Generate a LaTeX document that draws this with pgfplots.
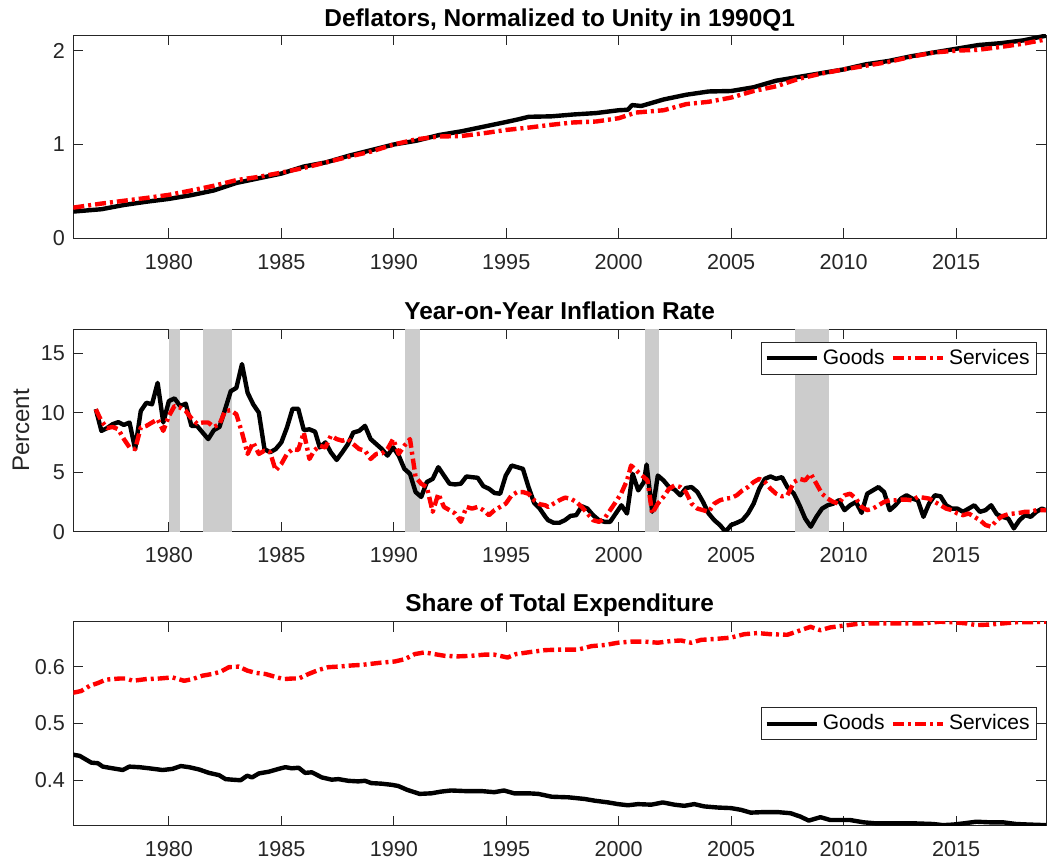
\documentclass[border=0pt]{standalone}
\usepackage{pgfplots}
\pgfplotsset{compat=1.18}
\usepackage{fontspec}
\setmainfont{Liberation Sans}
\definecolor{axgray}{RGB}{38,38,38}
\definecolor{recess}{RGB}{204,204,204}
\pgfplotsset{
  every axis title/.style={at={(0.5,1)}, anchor=base, yshift=5pt,
    font=\bfseries\fontsize{12.2}{14}\selectfont},
  myaxis/.style={
    scale only axis, width=486.35pt,
    xmin=1975.75, xmax=2019,
    xtick={1980,1985,...,2015},
    tick align=inside, tick pos=both,
    major tick length=5pt,
    axis line style={axgray, line width=0.4pt},
    every tick/.style={axgray, line width=0.4pt},
    tick label style={font=\fontsize{10.8}{12}\selectfont, text=axgray},
    /pgf/number format/assume math mode=true,
    xticklabel style={/pgf/number format/1000 sep=, anchor=base, yshift=-15.5pt},
    yticklabel style={xshift=-0.7pt},
    legend style={draw=axgray, line width=0.4pt, fill=white,
      font=\fontsize{10.5}{12}\selectfont, legend columns=2,
      inner xsep=1.5pt, inner ysep=1.5pt,
      /tikz/every even column/.append style={column sep=1pt}},
    legend image code/.code={\draw[##1] (0pt,0pt) -- (25pt,0pt);},
  },
  goods/.style={black, line width=2.2pt, line join=round},
  serv/.style={red, line width=2.2pt, line join=round, dash pattern=on 5.5pt off 2pt on 1.5pt off 2pt},
}
\begin{document}
\begin{tikzpicture}
\useasboundingbox (0,0) rectangle (523.5pt,432pt);
% ---------------- Top panel
\begin{axis}[myaxis, at={(36.65pt,312.85pt)}, anchor=south west, height=101.65pt,
  ymin=0, ymax=2.167, ytick={0,1,2},
  title={Deflators, Normalized to Unity in 1990Q1},
  title style={yshift=-0.8pt}]
\addplot[goods] table {
1975.75 0.285
1977 0.31
1978 0.355
1979 0.39
1980 0.42
1981 0.46
1982 0.51
1983 0.59
1984 0.64
1985 0.69
1986 0.765
1987 0.81
1988 0.88
1989 0.94
1990 1.0
1991 1.04
1992 1.10
1993 1.14
1994 1.19
1995 1.24
1995.5 1.266
1996 1.295
1997 1.30
1998 1.32
1999 1.335
2000 1.365
2000.4 1.37
2000.6 1.42
2001 1.41
2002 1.48
2003 1.53
2004 1.565
2005 1.57
2006 1.61
2007 1.68
2008 1.72
2009 1.76
2010 1.80
2011 1.855
2012 1.89
2013 1.94
2014 1.98
2015 2.02
2016 2.06
2017 2.08
2018 2.11
2019 2.16
};
\addplot[serv] table {
1975.75 0.327
1977 0.37
1978 0.40
1979 0.43
1980 0.463
1981 0.51
1982 0.56
1983 0.62
1984 0.655
1985 0.70
1986 0.75
1987 0.81
1988 0.87
1989 0.925
1990 1.0
1991 1.055
1992 1.085
1993 1.09
1994 1.12
1995 1.155
1996 1.18
1997 1.21
1998 1.235
1999 1.245
2000 1.28
2000.75 1.34
2002 1.365
2003 1.43
2004 1.455
2005 1.50
2006 1.57
2007 1.62
2008 1.70
2009 1.755
2010 1.80
2011 1.84
2012 1.88
2013 1.935
2014 1.98
2015 2.00
2016 2.01
2017 2.04
2018 2.075
2019 2.12
};
\end{axis}
% ---------------- Middle panel
\begin{axis}[myaxis, at={(36.65pt,166.15pt)}, anchor=south west, height=101.2pt,
  ymin=0, ymax=17, ytick={0,5,10,15},
  title={Year-on-Year Inflation Rate},
  ylabel={Percent},
  ylabel style={at={(axis description cs:-0.0538,0.5)}, anchor=center, font=\fontsize{12}{14}\selectfont, text=axgray},
  legend style={at={(axis description cs:0.9907,0.939)}, anchor=north east}]
\addplot[fill=recess, draw=none, forget plot] coordinates {(1980,0) (1980,17) (1980.5,17) (1980.5,0)} -- cycle;
\addplot[fill=recess, draw=none, forget plot] coordinates {(1981.5,0) (1981.5,17) (1982.8,17) (1982.8,0)} -- cycle;
\addplot[fill=recess, draw=none, forget plot] coordinates {(1990.5,0) (1990.5,17) (1991.15,17) (1991.15,0)} -- cycle;
\addplot[fill=recess, draw=none, forget plot] coordinates {(2001.15,0) (2001.15,17) (2001.8,17) (2001.8,0)} -- cycle;
\addplot[fill=recess, draw=none, forget plot] coordinates {(2007.85,0) (2007.85,17) (2009.35,17) (2009.35,0)} -- cycle;
\addplot[goods] table {
1976.75 10.3
1977.0 8.47
1977.25 8.7
1977.5 9.03
1977.75 9.2
1978.0 8.97
1978.25 9.17
1978.5 6.94
1978.75 10.14
1979.0 10.83
1979.25 10.7
1979.5 12.5
1979.75 9.17
1980.0 10.97
1980.25 11.2
1980.5 10.56
1980.75 10.75
1981.0 8.89
1981.25 8.89
1981.5 8.33
1981.75 7.78
1982.0 8.53
1982.25 8.8
1982.5 10.28
1982.75 11.8
1983.0 12.08
1983.25 14.08
1983.5 11.67
1983.75 10.7
1984.0 10.0
1984.25 6.94
1984.5 6.67
1984.75 6.94
1985.0 7.5
1985.25 8.75
1985.5 10.33
1985.75 10.33
1986.0 8.53
1986.25 8.6
1986.5 8.4
1986.71 7.08
1986.96 7.5
1987.2 6.67
1987.46 6.03
1987.71 6.67
1987.96 7.36
1988.2 8.33
1988.46 8.47
1988.72 8.89
1988.97 7.78
1989.22 7.36
1989.47 6.94
1989.72 6.39
1989.97 7.08
1990.22 6.39
1990.47 5.28
1990.72 4.86
1990.97 3.33
1991.22 2.92
1991.47 4.17
1991.73 4.44
1991.98 5.42
1992.23 4.72
1992.48 4.03
1992.73 3.97
1992.98 4.03
1993.23 4.64
1993.48 4.58
1993.73 4.53
1993.98 3.83
1994.23 3.61
1994.48 3.25
1994.73 3.19
1994.98 4.72
1995.24 5.56
1995.49 5.42
1995.74 5.28
1995.99 3.75
1996.24 2.42
1996.49 1.94
1996.74 1.25
1996.86 0.97
1997.11 0.75
1997.36 0.75
1997.61 0.97
1997.86 1.33
1998.11 1.39
1998.36 2.14
1998.61 1.94
1998.86 1.39
1999.12 0.97
1999.37 0.83
1999.62 0.83
1999.87 1.53
2000.12 2.22
2000.37 1.53
2000.62 4.86
2000.87 3.47
2001.12 4.17
2001.24 5.64
2001.49 1.67
2001.74 4.72
2001.99 4.31
2002.24 3.75
2002.49 3.53
2002.74 3.06
2002.99 3.67
2003.24 3.75
2003.5 3.33
2003.75 2.5
2004.0 1.53
2004.25 0.97
2004.5 0.56
2004.75 0.0
2005.0 0.56
2005.25 0.75
2005.5 0.97
2005.75 1.53
2006.0 2.36
2006.25 3.61
2006.5 4.44
2006.75 4.64
2007.0 4.44
2007.26 4.58
2007.5 3.75
2007.79 3.19
2008.04 2.22
2008.29 1.11
2008.54 0.42
2008.79 1.25
2009.04 1.94
2009.29 2.22
2009.54 2.36
2009.79 2.64
2010.04 1.81
2010.29 2.22
2010.55 2.5
2010.8 1.58
2011.05 3.19
2011.3 3.47
2011.55 3.75
2011.8 3.33
2012.05 1.81
2012.3 2.22
2012.55 2.78
2012.8 3.06
2013.05 2.78
2013.3 2.64
2013.55 1.25
2013.8 2.36
2014.06 3.06
2014.31 2.97
2014.56 2.22
2014.81 1.94
2015.06 1.94
2015.31 1.67
2015.56 1.94
2015.81 2.22
2016.06 1.67
2016.31 1.81
2016.56 2.22
2016.81 1.47
2017.06 1.25
2017.32 1.11
2017.57 0.28
2017.82 0.97
2018.07 1.39
2018.32 1.25
2018.57 1.67
2018.82 1.94
2019.0 1.8
};
\addlegendentry{Goods}
\addplot[serv] table {
1976.75 10.28
1977.0 9.3
1977.25 8.7
1977.5 8.8
1977.75 8.6
1978.0 7.78
1978.25 7.08
1978.5 6.94
1978.75 8.75
1979.0 8.89
1979.25 9.17
1979.5 9.44
1979.75 8.47
1980.0 9.72
1980.25 10.56
1980.5 10.42
1980.75 10.14
1981.0 9.53
1981.25 9.08
1981.5 9.17
1981.75 9.17
1982.0 8.8
1982.25 9.03
1982.5 10.14
1982.75 10.2
1983.0 9.86
1983.25 8.33
1983.5 6.53
1983.75 7.5
1984.0 6.53
1984.25 6.81
1984.5 6.67
1984.75 5.14
1985.0 5.69
1985.25 6.53
1985.5 6.94
1985.75 6.86
1986.0 8.33
1986.25 6.11
1986.46 6.81
1986.71 7.22
1986.96 7.08
1987.2 8.06
1987.46 7.78
1987.71 7.64
1987.96 7.78
1988.2 7.36
1988.46 6.94
1988.72 6.81
1988.97 6.11
1989.22 6.53
1989.47 6.58
1989.72 6.94
1989.97 7.78
1990.22 6.53
1990.47 7.22
1990.72 7.78
1990.97 4.58
1991.22 4.03
1991.47 3.75
1991.73 1.67
1991.98 3.19
1992.23 2.08
1992.48 1.81
1992.73 1.53
1992.98 0.83
1993.23 2.08
1993.48 1.94
1993.73 2.08
1993.98 1.81
1994.23 1.39
1994.48 1.81
1994.73 2.08
1994.98 2.36
1995.24 3.06
1995.49 3.33
1995.74 3.33
1995.99 3.19
1996.24 2.64
1996.49 2.31
1996.74 2.22
1996.86 2.08
1997.11 2.36
1997.36 2.64
1997.61 2.86
1997.86 2.78
1998.11 2.5
1998.36 2.08
1998.61 1.53
1998.86 0.97
1999.12 0.83
1999.37 1.11
1999.62 1.81
1999.87 2.5
2000.12 3.25
2000.37 4.31
2000.55 5.56
2000.87 5.0
2001.12 4.58
2001.28 4.31
2001.49 1.53
2001.74 2.36
2001.99 2.92
2002.24 3.61
2002.49 3.89
2002.74 3.75
2002.99 3.33
2003.24 2.36
2003.5 1.94
2003.75 1.81
2004.0 1.67
2004.25 2.36
2004.5 2.64
2004.75 2.78
2005.0 2.83
2005.25 3.06
2005.5 3.47
2005.75 3.75
2006.0 4.17
2006.25 4.44
2006.5 4.17
2006.75 3.61
2007.0 3.19
2007.26 2.97
2007.5 3.06
2007.79 4.17
2008.04 4.44
2008.29 4.31
2008.54 4.86
2008.79 4.03
2009.04 3.19
2009.29 2.78
2009.54 2.5
2009.79 2.36
2010.04 3.06
2010.29 3.19
2010.55 2.78
2010.8 2.08
2011.05 1.81
2011.3 1.94
2011.55 2.22
2011.8 2.5
2012.05 2.64
2012.3 2.64
2012.55 2.69
2012.8 2.69
2013.05 2.64
2013.3 2.92
2013.55 2.86
2013.8 2.78
2014.06 2.5
2014.31 2.22
2014.56 1.94
2014.81 1.81
2015.06 1.53
2015.31 1.39
2015.56 1.53
2015.81 1.25
2016.06 0.97
2016.31 0.56
2016.56 0.42
2016.81 0.97
2017.06 1.31
2017.32 1.47
2017.57 1.53
2017.82 1.58
2018.07 1.67
2018.32 1.67
2018.57 1.81
2018.82 1.81
2019.0 1.8
};
\addlegendentry{Services}
\end{axis}
% ---------------- Bottom panel
\begin{axis}[myaxis, at={(36.65pt,19.15pt)}, anchor=south west, height=102pt,
  ymin=0.32, ymax=0.679, ytick={0.4,0.5,0.6},
  title={Share of Total Expenditure},
  legend style={at={(axis description cs:0.9907,0.5)}, anchor=east}]
\addplot[goods] table {
1975.74 0.445
1976.03 0.443
1976.55 0.431
1976.84 0.430
1977.06 0.424
1977.5 0.421
1977.95 0.418
1978.24 0.424
1978.69 0.423
1979.13 0.421
1979.72 0.418
1980.16 0.420
1980.53 0.425
1980.9 0.423
1981.34 0.419
1981.78 0.413
1982.23 0.409
1982.52 0.402
1982.82 0.401
1983.19 0.400
1983.48 0.408
1983.7 0.405
1984.0 0.412
1984.44 0.415
1984.88 0.420
1985.18 0.423
1985.47 0.421
1985.77 0.422
1986.06 0.413
1986.36 0.414
1986.8 0.405
1987.24 0.401
1987.54 0.402
1987.98 0.399
1988.42 0.398
1988.72 0.399
1989.0 0.395
1989.45 0.394
1989.9 0.392
1990.19 0.390
1990.6 0.383
1991.15 0.376
1991.67 0.377
1992.1 0.380
1992.55 0.382
1993.14 0.381
1993.88 0.381
1994.47 0.379
1994.9 0.382
1995.35 0.377
1995.99 0.377
1996.43 0.376
1997.02 0.371
1997.76 0.370
1998.5 0.367
1998.94 0.364
1999.53 0.361
1999.97 0.358
2000.41 0.356
2000.86 0.358
2001.45 0.357
2001.96 0.361
2002.48 0.357
2002.92 0.355
2003.36 0.358
2003.8 0.354
2004.4 0.352
2004.99 0.351
2005.43 0.348
2005.87 0.343
2006.46 0.344
2007.05 0.344
2007.64 0.342
2008.08 0.336
2008.45 0.329
2008.97 0.335
2009.41 0.330
2009.85 0.330
2010.29 0.330
2010.88 0.326
2011.47 0.324
2012.21 0.324
2013.24 0.324
2013.98 0.323
2014.42 0.321
2014.87 0.322
2015.31 0.324
2015.9 0.327
2016.49 0.326
2017.08 0.326
2017.67 0.323
2018.26 0.322
2019.0 0.321
};
\addlegendentry{Goods}
\addplot[serv] table {
1975.74 0.554
1976.1 0.557
1976.47 0.566
1976.84 0.571
1977.2 0.577
1977.8 0.579
1978.1 0.579
1978.4 0.575
1978.98 0.578
1979.57 0.579
1980.16 0.581
1980.68 0.575
1981.05 0.578
1981.49 0.584
1981.93 0.587
1982.3 0.591
1982.67 0.599
1983.11 0.600
1983.48 0.593
1983.85 0.589
1984.29 0.587
1984.73 0.582
1985.1 0.578
1985.47 0.579
1985.77 0.579
1986.21 0.587
1986.65 0.594
1987.09 0.599
1987.54 0.600
1988.13 0.602
1988.57 0.603
1989.01 0.605
1989.45 0.607
1990.04 0.609
1990.49 0.613
1990.93 0.622
1991.37 0.625
1991.81 0.622
1992.26 0.619
1992.85 0.618
1993.44 0.619
1994.03 0.621
1994.47 0.621
1995.06 0.616
1995.43 0.622
1996.14 0.626
1996.73 0.629
1997.46 0.630
1998.2 0.630
1998.79 0.636
1999.38 0.638
1999.97 0.642
2000.56 0.644
2001.15 0.644
2001.74 0.642
2002.33 0.645
2002.77 0.646
2003.22 0.642
2003.66 0.647
2004.4 0.649
2004.99 0.651
2005.58 0.657
2006.17 0.659
2006.76 0.657
2007.5 0.656
2007.94 0.662
2008.53 0.670
2008.97 0.664
2009.41 0.669
2010.0 0.672
2010.59 0.675
2011.18 0.676
2011.77 0.676
2012.65 0.676
2013.54 0.676
2014.28 0.679
2014.87 0.678
2015.46 0.676
2015.9 0.673
2016.49 0.674
2017.08 0.676
2017.67 0.678
2018.26 0.678
2019.0 0.679
};
\addlegendentry{Services}
\end{axis}
\end{tikzpicture}
\end{document}
